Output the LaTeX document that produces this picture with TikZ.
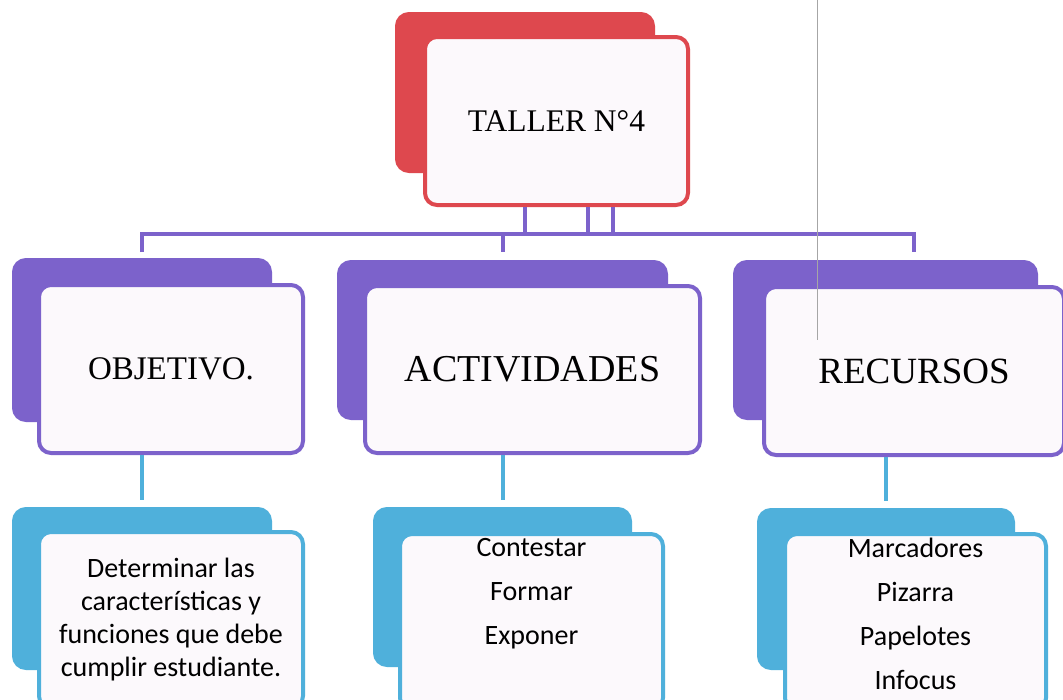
\documentclass[tikz,border=0pt]{standalone}
\usepackage{fontspec}
\setmainfont{Liberation Serif}
\newfontfamily\calibri{Carlito}
\usepackage{tikz}
\usetikzlibrary{positioning,calc}
\definecolor{tallerred}{RGB}{222,72,78}
\definecolor{lila}{RGB}{124,98,203}
\definecolor{celeste}{RGB}{79,176,219}
\definecolor{papel}{RGB}{252,249,252}

\begin{document}
\begin{tikzpicture}[x=1pt, y=-1pt,
    shade box/.style={draw=#1, fill=#1, rounded corners=12pt, line width=4pt, inner sep=0pt},
    card/.style={draw=#1, fill=papel, rounded corners=12pt, line width=4pt, inner sep=0pt, align=center},
    boxsize/.style 2 args={minimum width=#1pt, minimum height=#2pt},
    plink/.style={draw=lila, line width=4pt},
    blink/.style={draw=celeste, line width=4pt},
    items/.style={font=\calibri\fontsize{28}{44}\selectfont, align=center, inner sep=0pt}]
  \path[use as bounding box, fill=white] (0,0) rectangle (1063,699);

  % taller
  \node (sh_taller) [shade box=tallerred, boxsize={256}{157}] at (525,92.5) {};
  \node (taller) [card=tallerred, boxsize={263}{168}, font=\fontsize{31.5}{34}\selectfont] at (556.5,121) {TALLER N°4};

  % second row
  \node (sh_obj) [shade box=lila, boxsize={256}{160}] at (142,340) {};
  \node (obj) [card=lila, boxsize={264}{168}, font=\fontsize{33}{36}\selectfont] at (171,369) {OBJETIVO.};
  \node (sh_act) [shade box=lila, boxsize={327}{156}] at (502.5,340) {};
  \node (act) [card=lila, boxsize={335}{167}, font=\fontsize{38}{40}\selectfont] at (532.5,369.5) {ACTIVIDADES};
  \node (sh_rec) [shade box=lila, boxsize={301}{156}] at (885.5,340) {};
  \node (rec) [card=lila, boxsize={300}{168}, font=\fontsize{37}{40}\selectfont] at (914,371) {RECURSOS};

  % third row
  \node (sh_det) [shade box=celeste, boxsize={256}{159}] at (142,588.5) {};
  \node (det) [card=celeste, boxsize={264}{176}, font=\calibri\fontsize{28}{33}\selectfont] at (171,620)
    {Determinar las\\características y\\funciones que debe\\cumplir estudiante.};
  \node (sh_con) [shade box=celeste, boxsize={255}{156}] at (502.5,587) {};
  \node (con) [card=celeste, boxsize={263}{176}] at (531.5,622) {};
  \node (con_list) [items, below=6pt of con.north] {Contestar\\Formar\\Exponer};
  \node (sh_mat) [shade box=celeste, boxsize={254}{158}] at (886,589) {};
  \node (mat) [card=celeste, boxsize={261}{176}] at (915.5,622) {};
  \node (mat_list) [items, below=6pt of mat.north] {Marcadores\\Pizarra\\Papelotes\\Infocus};

  % links
  \coordinate (bus) at (0,234);
  \foreach \x in {525,588,613}
    \draw[plink] (taller.south -| \x,0) -- (bus -| \x,0);
  \draw[plink, shorten <=6pt, shorten >=8pt] (sh_obj.north) -- (sh_obj.north |- bus)
    -- (rec.north |- bus) -- (rec.north |- sh_rec.north);
  \draw[plink, shorten >=8pt] (sh_act.north |- bus) -- (sh_act.north);
  \draw[blink, shorten >=7pt] (obj.south -| sh_obj.center) -- (sh_det.north -| sh_obj.center);
  \draw[blink, shorten >=7pt] (act.south -| sh_act.center) -- (sh_con.north -| sh_act.center);
  \draw[blink, shorten >=7pt] (rec.south -| sh_rec.center) -- (sh_mat.north -| sh_rec.center);

  \draw[gray!70, line width=0.6pt] (817,0) -- (817,340);
\end{tikzpicture}
\end{document}
